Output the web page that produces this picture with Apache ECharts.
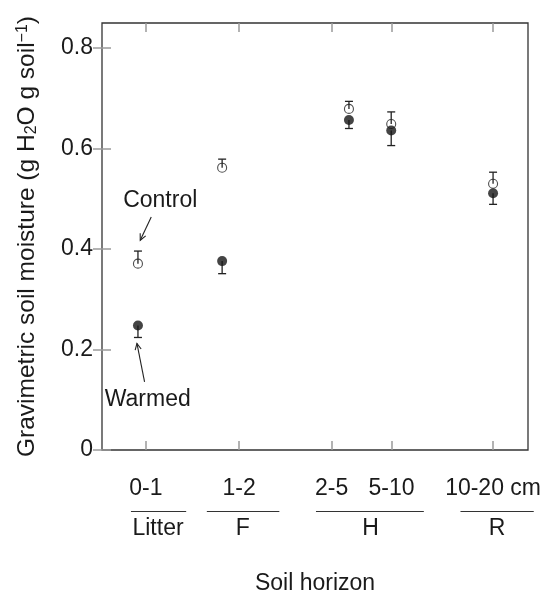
<!DOCTYPE html>
<html><head><meta charset="utf-8">
<script src="https://cdn.jsdelivr.net/npm/echarts@6/dist/echarts.min.js"></script>
<style>html,body{margin:0;padding:0;background:#fff}#c{width:544px;height:596px}</style>
</head><body><div id="c"></div>
<script>
// ---- data ----
const depthLabels = ['0-1', '1-2', '2-5', '5-10', '10-20 cm'];
const depthTickPos = [10.31, 32.18, 53.91, 67.98, 91.80];
const pointPos = [8.44, 28.2, 57.97, 67.89, 91.8];
const controlMean = [0.371, 0.562, 0.679, 0.649, 0.530];
const controlSE = [0.025, 0.017, 0.015, 0.024, 0.023];
const warmedMean = [0.248, 0.376, 0.657, 0.636, 0.511];
const warmedSE = [0.024, 0.025, 0.017, 0.030, 0.022];
const horizonLabels = ['Litter', 'F', 'H', 'R'];
const horizonCenter = [13.15, 33.05, 63.06, 92.73];
const horizonStart = [6.80, 24.61, 50.23, 84.15];
const horizonEnd = [19.76, 41.63, 75.55, 101.35];
const yTicks = [0, 0.2, 0.4, 0.6, 0.8];

// ---- chart ----
const FONT = 'Liberation Sans';
const TXT = '#1a1a1a';
const chart = echarts.init(document.getElementById('c'), null, {renderer: 'canvas'});

function nearestLabel(v, pos, labels) {
  let best = 0;
  for (let i = 1; i < pos.length; i++) if (Math.abs(pos[i] - v) < Math.abs(pos[best] - v)) best = i;
  return labels[best];
}

const tickStyle = {show: true, inside: true, length: 9, lineStyle: {color: '#9a9a9a', width: 1.5}};

function errRender(params, api) {
  const x = api.value(0), y = api.value(1), e = api.value(2);
  const p0 = api.coord([x, y]);
  const p1 = api.coord([x, y + e]);
  const st = {stroke: '#222', lineWidth: 1.3};
  return {type: 'group', children: [
    {type: 'line', shape: {x1: p0[0], y1: p0[1], x2: p1[0], y2: p1[1]}, style: st},
    {type: 'line', shape: {x1: p1[0] - 4, y1: p1[1], x2: p1[0] + 4, y2: p1[1]}, style: st}
  ]};
}

const option = {
  animation: false,
  textStyle: {fontFamily: FONT, color: TXT},
  grid: {left: 102, right: 16, top: 23, bottom: 146, outerBoundsMode: 'none', containLabel: false,
         show: true, borderColor: '#333', borderWidth: 1.3, backgroundColor: 'transparent'},
  xAxis: [
    {type: 'value', min: 0, max: 100, position: 'bottom', splitLine: {show: false}, axisLine: {show: false},
     axisTick: Object.assign({customValues: depthTickPos}, tickStyle),
     axisLabel: {customValues: depthTickPos, margin: 27, fontSize: 23, color: TXT, fontFamily: FONT,
       formatter: v => nearestLabel(v, depthTickPos, depthLabels)}},
    {type: 'value', min: 0, max: 100, position: 'bottom', splitLine: {show: false}, axisLine: {show: false},
     axisTick: {show: false},
     axisLabel: {customValues: horizonCenter, margin: 67, fontSize: 23, color: TXT, fontFamily: FONT,
       formatter: v => nearestLabel(v, horizonCenter, horizonLabels)},
     name: 'Soil horizon', nameLocation: 'middle', nameGap: 122,
     nameTextStyle: {fontSize: 23, color: TXT, fontFamily: FONT}},
    {type: 'value', min: 0, max: 100, position: 'top', splitLine: {show: false}, axisLine: {show: false},
     axisTick: Object.assign({customValues: depthTickPos}, tickStyle), axisLabel: {show: false}}
  ],
  yAxis: [
    {type: 'value', min: 0, max: 0.85, position: 'left', splitLine: {show: false}, axisLine: {show: false},
     axisTick: Object.assign({customValues: yTicks}, tickStyle),
     axisLabel: {customValues: yTicks, margin: 9, fontSize: 23, color: TXT, fontFamily: FONT,
       formatter: v => (Math.abs(v) < 1e-9 ? '0' : v.toFixed(1))},
     name: 'Gravimetric soil moisture (g H{sub|2}O g soil{sup|\u22121})', nameLocation: 'middle', nameGap: 62,
     nameTextStyle: {fontSize: 24.5, color: TXT, fontFamily: FONT,
       rich: {sub: {fontSize: 16, color: TXT, fontFamily: FONT, verticalAlign: 'bottom', padding: [9, 0, 0, 0]},
              sup: {fontSize: 16, color: TXT, fontFamily: FONT, verticalAlign: 'top', padding: [0, 0, 9, 0]}}}},
    {type: 'value', min: 0, max: 0.85, position: 'right', splitLine: {show: false}, axisLine: {show: false},
     axisTick: Object.assign({customValues: yTicks}, tickStyle), axisLabel: {show: false}}
  ],
  series: [
    {type: 'custom', name: 'ControlErr', xAxisIndex: 0, yAxisIndex: 0, renderItem: errRender,
     data: pointPos.map((x, i) => [x, controlMean[i], controlSE[i]]), z: 2},
    {type: 'scatter', name: 'Control', xAxisIndex: 0, yAxisIndex: 0, symbol: 'circle', symbolSize: 9,
     itemStyle: {color: 'rgba(255,255,255,0)', borderColor: '#222', borderWidth: 1.1},
     data: pointPos.map((x, i) => [x, controlMean[i]]), z: 3},
    {type: 'custom', name: 'WarmedErr', xAxisIndex: 0, yAxisIndex: 0, renderItem: errRender,
     data: pointPos.map((x, i) => [x, warmedMean[i], -warmedSE[i]]), z: 4},
    {type: 'scatter', name: 'Warmed', xAxisIndex: 0, yAxisIndex: 0, symbol: 'circle', symbolSize: 10,
     itemStyle: {color: '#151515'},
     data: pointPos.map((x, i) => [x, warmedMean[i]]), z: 5}
  ]
};
chart.setOption(option);

// ---- annotations & horizon brackets (positioned through the axes) ----
const cp = (x, y) => chart.convertToPixel({xAxisIndex: 0, yAxisIndex: 0}, [x, y]);
const base = cp(0, 0)[1];
const gfx = [];
for (let i = 0; i < horizonLabels.length; i++) {
  const a = cp(horizonStart[i], 0), b = cp(horizonEnd[i], 0);
  gfx.push({type: 'line', shape: {x1: a[0], y1: base + 61.5, x2: b[0], y2: base + 61.5},
            style: {stroke: '#333', lineWidth: 1.1}, silent: true});
}
function arrow(from, to) {
  const p0 = cp(from[0], from[1]), p1 = cp(to[0], to[1]);
  const ang = Math.atan2(p1[1] - p0[1], p1[0] - p0[0]);
  const L = 7, w = 0.45;
  const h1 = [p1[0] - L * Math.cos(ang - w), p1[1] - L * Math.sin(ang - w)];
  const h2 = [p1[0] - L * Math.cos(ang + w), p1[1] - L * Math.sin(ang + w)];
  const st = {stroke: '#222', lineWidth: 1.1, fill: null};
  gfx.push({type: 'line', shape: {x1: p0[0], y1: p0[1], x2: p1[0], y2: p1[1]}, style: st, silent: true});
  gfx.push({type: 'polyline', shape: {points: [h1, p1, h2]}, style: st, silent: true});
}
function label(text, at) {
  const p = cp(at[0], at[1]);
  gfx.push({type: 'text', x: p[0], y: p[1], silent: true,
            style: {text: text, fontSize: 23, fontFamily: FONT, fill: TXT, align: 'center', verticalAlign: 'middle'}});
}
label('Control', [13.67, 0.497]);
arrow([11.56, 0.4638], [8.98, 0.4175]);
label('Warmed', [10.74, 0.0994]);
arrow([9.99, 0.1358], [8.2, 0.2121]);
chart.setOption({graphic: gfx});
</script></body></html>
